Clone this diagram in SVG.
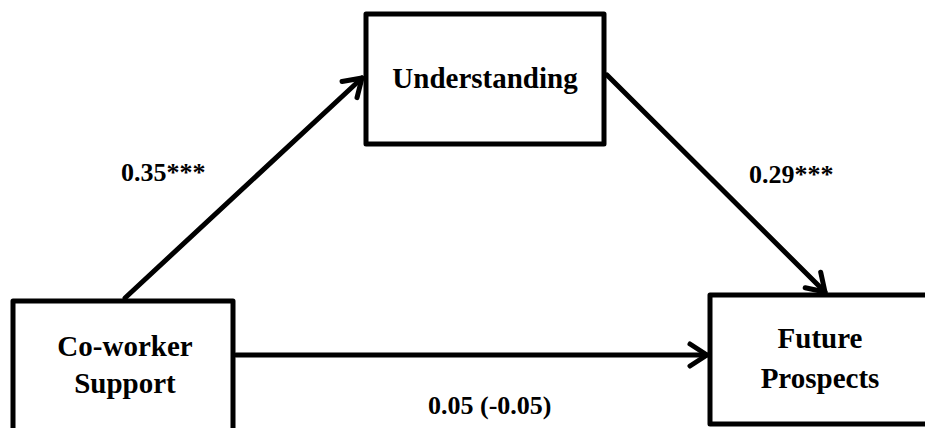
<svg xmlns="http://www.w3.org/2000/svg" width="925" height="428" viewBox="0 0 925 428">
  <style>
    .box { fill: #ffffff; stroke: #000000; stroke-width: 5; stroke-linejoin: round; }
    .lbl { font-family: "Liberation Serif", "Times New Roman", serif; font-weight: bold; fill: #000000; }
    .node { font-size: 29px; text-anchor: middle; }
    .coef { font-size: 26px; }
    .edge { stroke: #000000; stroke-width: 5; fill: none; stroke-linecap: round; }
  </style>
  <defs>
    <marker id="arrow" markerUnits="userSpaceOnUse" markerWidth="26" markerHeight="30" viewBox="0 0 26 30" refX="21" refY="15" orient="auto">
      <path d="M4,4 L21,15 L4,26" fill="none" stroke="#000000" stroke-width="5" stroke-linecap="round" stroke-linejoin="round"/>
    </marker>
  </defs>
  <rect width="925" height="428" fill="#ffffff"/>

  <g id="connectors">
    <line class="edge" x1="125" y1="298" x2="362" y2="78" marker-end="url(#arrow)"/>
    <line class="edge" x1="607" y1="75" x2="825" y2="292" marker-end="url(#arrow)"/>
    <line class="edge" x1="236" y1="355" x2="707" y2="355" marker-end="url(#arrow)"/>
  </g>

  <g id="node-understanding">
    <rect class="box" x="366" y="14" width="238" height="130"/>
    <text class="lbl node" x="485" y="88">Understanding</text>
  </g>

  <g id="node-coworker">
    <rect class="box" x="13" y="301" width="220" height="140"/>
    <text class="lbl node" x="125" y="356">Co-worker</text>
    <text class="lbl node" x="125" y="393">Support</text>
  </g>

  <g id="node-future">
    <rect class="box" x="710" y="295" width="230" height="129"/>
    <text class="lbl node" x="820" y="348">Future</text>
    <text class="lbl node" x="820" y="388">Prospects</text>
  </g>

  <g id="labels">
    <text class="lbl coef" x="121" y="181">0.35***</text>
    <text class="lbl coef" x="749" y="183">0.29***</text>
    <text class="lbl coef" x="428" y="414">0.05 (-0.05)</text>
  </g>
</svg>
